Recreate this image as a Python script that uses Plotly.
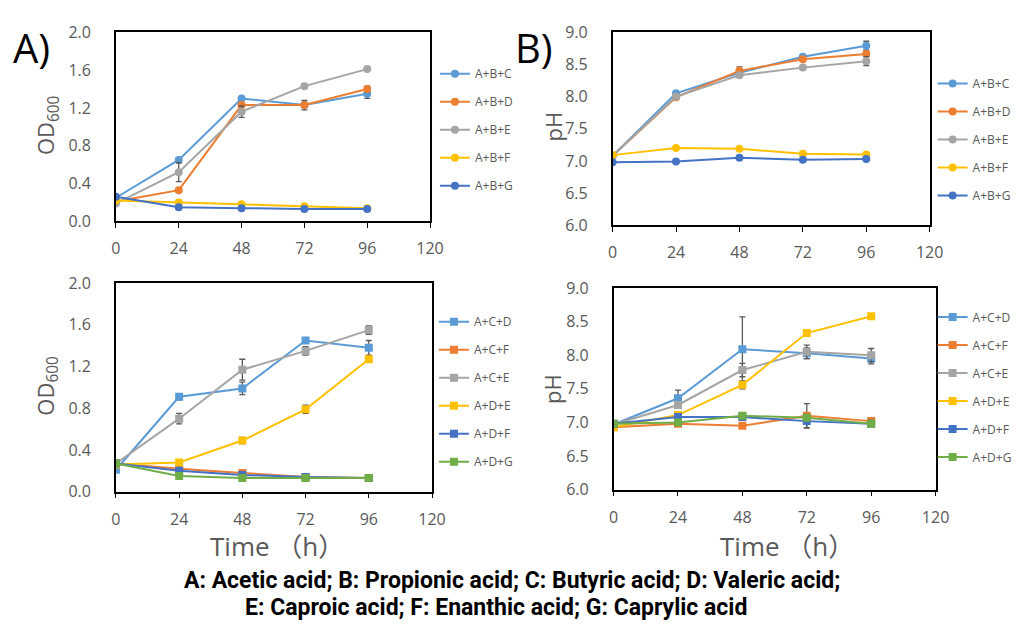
import plotly.graph_objects as go

hours = [0, 24, 48, 72, 96]
x_ticks = [0, 24, 48, 72, 96, 120]

# Panel A top: OD600
od_top_names = ["A+B+C", "A+B+D", "A+B+E", "A+B+F", "A+B+G"]
od_abc = [0.25, 0.65, 1.30, 1.23, 1.35]
od_abd = [0.21, 0.33, 1.23, 1.23, 1.40]
od_abe = [0.19, 0.52, 1.16, 1.43, 1.61]
od_abf = [0.22, 0.20, 0.18, 0.16, 0.14]
od_abg = [0.26, 0.15, 0.14, 0.13, 0.13]
od_abc_err = [0.01, 0.02, 0.02, 0.02, 0.05]
od_abd_err = [0.01, 0.02, 0.02, 0.05, 0.03]
od_abe_err = [0.01, 0.10, 0.06, 0.02, 0.02]
od_abf_err = [0.01, 0.01, 0.01, 0.01, 0.01]
od_abg_err = [0.01, 0.01, 0.01, 0.01, 0.01]

# Panel B top: pH
ph_abc = [7.08, 8.05, 8.37, 8.62, 8.79]
ph_abd = [7.08, 7.99, 8.40, 8.58, 8.66]
ph_abe = [7.08, 8.00, 8.33, 8.45, 8.55]
ph_abf = [7.09, 7.20, 7.19, 7.11, 7.10]
ph_abg = [6.98, 6.99, 7.05, 7.02, 7.03]
ph_abc_err = [0.02, 0.02, 0.03, 0.02, 0.07]
ph_abd_err = [0.02, 0.03, 0.06, 0.03, 0.03]
ph_abe_err = [0.02, 0.02, 0.03, 0.03, 0.07]
ph_abf_err = [0.01, 0.01, 0.01, 0.03, 0.01]
ph_abg_err = [0.01, 0.01, 0.01, 0.01, 0.01]

# Panel A bottom: OD600
od_bot_names = ["A+C+D", "A+C+F", "A+C+E", "A+D+E", "A+D+F", "A+D+G"]
od_acd = [0.21, 0.91, 0.99, 1.45, 1.38]
od_acf = [0.27, 0.22, 0.18, 0.14, 0.13]
od_ace = [0.27, 0.70, 1.17, 1.35, 1.55]
od_ade = [0.26, 0.28, 0.49, 0.79, 1.27]
od_adf = [0.27, 0.20, 0.16, 0.14, 0.13]
od_adg = [0.27, 0.15, 0.13, 0.13, 0.13]
od_acd_err = [0.02, 0.03, 0.06, 0.02, 0.07]
od_acf_err = [0.01, 0.01, 0.02, 0.01, 0.01]
od_ace_err = [0.02, 0.05, 0.10, 0.04, 0.04]
od_ade_err = [0.01, 0.02, 0.03, 0.04, 0.03]
od_adf_err = [0.01, 0.01, 0.01, 0.01, 0.01]
od_adg_err = [0.01, 0.01, 0.01, 0.01, 0.01]

# Panel B bottom: pH
ph_acd = [6.97, 7.36, 8.09, 8.03, 7.95]
ph_acf = [6.93, 6.98, 6.95, 7.10, 7.02]
ph_ace = [6.97, 7.26, 7.78, 8.05, 8.00]
ph_ade = [6.93, 7.11, 7.56, 8.33, 8.58]
ph_adf = [6.98, 7.08, 7.08, 7.02, 6.98]
ph_adg = [6.98, 7.00, 7.10, 7.07, 6.98]
ph_acd_err = [0.03, 0.12, 0.48, 0.08, 0.08]
ph_acf_err = [0.02, 0.02, 0.03, 0.18, 0.03]
ph_ace_err = [0.03, 0.05, 0.10, 0.10, 0.10]
ph_ade_err = [0.02, 0.03, 0.06, 0.03, 0.02]
ph_adf_err = [0.02, 0.02, 0.03, 0.10, 0.02]
ph_adg_err = [0.01, 0.01, 0.02, 0.02, 0.01]

top_colors = ["#5B9BD5", "#ED7D31", "#A5A5A5", "#FFC000", "#4472C4"]
bot_colors = ["#5B9BD5", "#ED7D31", "#A5A5A5", "#FFC000", "#4472C4", "#70AD47"]

W, H = 1033, 631
def fx(px):
    return px / W
def fy(py):
    return 1 - py / H

fig = go.Figure()

def add_panel(names, ys, errs, colors, xa, ya, legend, symbol):
    for i, (n, y, e, c) in enumerate(zip(names, ys, errs, colors)):
        fig.add_trace(go.Scatter(
            x=hours, y=y, name=n, mode="lines+markers",
            line=dict(color=c, width=2),
            marker=dict(color=c, size=8, symbol=symbol),
            error_y=dict(type="data", array=e, color="#595959", thickness=1.3, width=3),
            xaxis=xa, yaxis=ya, legend=legend, legendgroup=legend + n,
        ))

add_panel(od_top_names, [od_abc, od_abd, od_abe, od_abf, od_abg],
          [od_abc_err, od_abd_err, od_abe_err, od_abf_err, od_abg_err],
          top_colors, "x", "y", "legend", "circle")
add_panel(od_top_names, [ph_abc, ph_abd, ph_abe, ph_abf, ph_abg],
          [ph_abc_err, ph_abd_err, ph_abe_err, ph_abf_err, ph_abg_err],
          top_colors, "x2", "y2", "legend2", "circle")
add_panel(od_bot_names, [od_acd, od_acf, od_ace, od_ade, od_adf, od_adg],
          [od_acd_err, od_acf_err, od_ace_err, od_ade_err, od_adf_err, od_adg_err],
          bot_colors, "x3", "y3", "legend3", "square")
add_panel(od_bot_names, [ph_acd, ph_acf, ph_ace, ph_ade, ph_adf, ph_adg],
          [ph_acd_err, ph_acf_err, ph_ace_err, ph_ade_err, ph_adf_err, ph_adg_err],
          bot_colors, "x4", "y4", "legend4", "square")

tick_font = dict(family="Open Sans, Arial, sans-serif", size=16, color="#595959")

def xaxis(domain, anchor):
    return dict(domain=domain, anchor=anchor, range=[0, 120], tickvals=x_ticks,
                showline=True, linecolor="black", linewidth=1.5, mirror=True,
                ticks="outside", ticklen=5, tickcolor="black", tickwidth=1,
                showgrid=False, zeroline=False, tickfont=tick_font,
                ticklabelstandoff=7)

def yaxis(domain, anchor, rng, dtick):
    return dict(domain=domain, anchor=anchor, range=rng, dtick=dtick, tickformat=".1f",
                showline=True, linecolor="black", linewidth=1.5, mirror=True,
                ticks="", showgrid=False, zeroline=False, tickfont=tick_font,
                ticklabelstandoff=20)

legend_common = dict(font=dict(family="Open Sans, Arial, sans-serif", size=12, color="#595959"),
                     bgcolor="rgba(0,0,0,0)", tracegroupgap=9, itemwidth=30,
                     xanchor="left", yanchor="top", borderwidth=0)

fig.update_layout(
    width=W, height=H, margin=dict(l=0, r=0, t=0, b=0),
    plot_bgcolor="white", paper_bgcolor="white",
    xaxis=xaxis([fx(113), fx(433)], "y"),
    yaxis=yaxis([fy(218), fy(22)], "x", [0, 2.0], 0.4),
    xaxis2=xaxis([fx(619), fx(942)], "y2"),
    yaxis2=yaxis([fy(222), fy(22)], "x2", [6.0, 9.0], 0.5),
    xaxis3=xaxis([fx(113), fx(435)], "y3"),
    yaxis3=yaxis([fy(498), fy(282)], "x3", [0, 2.0], 0.4),
    xaxis4=xaxis([fx(620), fx(948)], "y4"),
    yaxis4=yaxis([fy(496), fy(287)], "x4", [6.0, 9.0], 0.5),
    legend=dict(x=fx(438), y=fy(50), **legend_common),
    legend2=dict(x=fx(945), y=fy(60), **legend_common),
    legend3=dict(x=fx(437), y=fy(307), **legend_common),
    legend4=dict(x=fx(945), y=fy(302), **legend_common),
    showlegend=True,
)

title_font = dict(family="Open Sans, Arial, sans-serif", size=22, color="#595959")
ann = []
ann.append(dict(text="OD<sub>600</sub>", x=fx(43), y=fy(118), textangle=-90, font=title_font))
ann.append(dict(text="OD<sub>600</sub>", x=fx(43), y=fy(388), textangle=-90, font=title_font))
ann.append(dict(text="pH", x=fx(558), y=fy(120), textangle=-90, font=title_font))
ann.append(dict(text="pH", x=fx(558), y=fy(392), textangle=-90, font=title_font))
time_font = dict(family="Open Sans, Noto Sans CJK JP, sans-serif", size=26, color="#595959")
ann.append(dict(text="Time （h）", x=fx(277), y=fy(554), font=time_font))
ann.append(dict(text="Time （h）", x=fx(797), y=fy(554), font=time_font))
panel_font = dict(family="Open Sans, Arial, sans-serif", size=40, color="black")
ann.append(dict(text="A)", x=fx(27), y=fy(38), font=panel_font))
ann.append(dict(text="B)", x=fx(539), y=fy(38), font=panel_font))
foot_font = dict(family="Roboto, Arial, sans-serif", size=23, color="black")
ann.append(dict(text="<b>A: Acetic acid; B: Propionic acid; C: Butyric acid; D: Valeric acid;</b>",
                x=fx(517), y=fy(590), font=foot_font))
ann.append(dict(text="<b>E: Caproic acid; F: Enanthic acid; G: Caprylic acid</b>",
                x=fx(500), y=fy(618), font=foot_font))
for a in ann:
    a.update(xref="paper", yref="paper", showarrow=False, xanchor="center", yanchor="middle")
fig.update_layout(annotations=ann)

fig.write_html("out.html", config={"displayModeBar": False},
               post_script="document.body.style.margin='0px';")
